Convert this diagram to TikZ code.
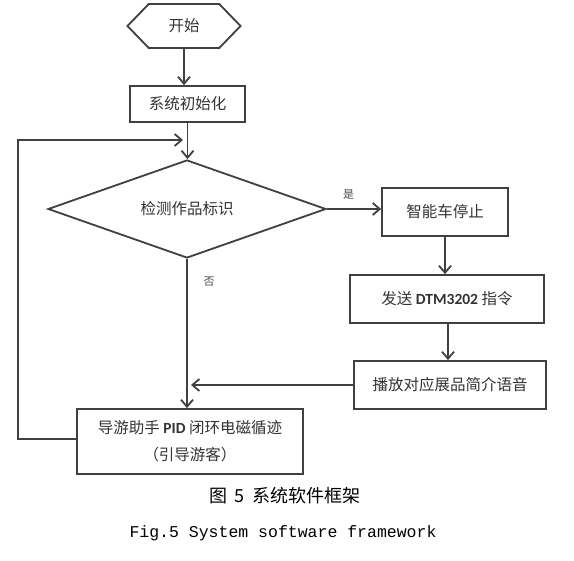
\documentclass[tikz,border=0pt]{standalone}
\usepackage{fontspec}
\setmainfont{Carlito}
\newfontfamily\cjk{Noto Sans CJK SC}
\newfontfamily\lat{Carlito}
\newfontfamily\mono{Liberation Mono}
\usetikzlibrary{arrows.meta,shapes.geometric,shapes.symbols}
\begin{document}
\begin{tikzpicture}[x=1pt,y=-1pt,
  line width=1.8pt,
  lc/.style={draw=black!75},
  box/.style={lc, rectangle, inner sep=0pt, text=black!80, font=\cjk\fontsize{15.5}{27}\selectfont},
  arr/.style={lc, -{Straight Barb[length=7pt,width=12pt,line width=1.8pt]}},
  lbl/.style={text=black!70, font=\cjk\fontsize{11}{13}\selectfont, inner sep=0pt}
]
\useasboundingbox (0,0) rectangle (574,561);
\fill[white] (0,0) rectangle (574,561);

\node[box, shape=signal, signal to=west and east, signal pointer angle=92,
      minimum width=113pt, minimum height=44pt] (start) at (184,26) {开始};
\node[box, minimum width=115pt, minimum height=36pt] (init) at (187.5,104) {系统初始化};
\node[box, shape=diamond, aspect=2.8, minimum width=278pt, minimum height=98pt, inner sep=0pt] (dia) at (187,209) {检测作品标识};
\node[box, minimum width=126pt, minimum height=48pt] (stop) at (445,212) {智能车停止};
\node[box, minimum width=194pt, minimum height=48pt] (send) at (447,299) {发送 {\lat\bfseries DTM3202} 指令};
\node[box, minimum width=192pt, minimum height=48pt] (play) at (450,385) {播放对应展品简介语音};
\node[box, minimum width=226pt, minimum height=65pt, align=center] (guide) at (190,441.5)
  {导游助手 {\lat\bfseries PID} 闭环电磁循迹\\（引导游客）};

\coordinate (lp) at (18,0);
\coordinate (le) at (183,140);
\coordinate (jn) at (191,0);

\draw[arr] (start.south) -- (start.south |- init.north);
\draw[arr] (init.south) -- (init.south |- dia.north);
\draw[arr] (dia.east) -- (dia.east -| stop.west) node[lbl, pos=0.4, above=9pt] (yes) {是};
\draw[arr] (stop.south) -- (stop.south |- send.north);
\draw[arr] ([xshift=1pt]send.south) -- ([xshift=1pt]send.south |- play.north);
\draw[arr] (dia.south) -- (dia.south |- guide.north);
\node[lbl] (no) at (209,282) {否};
\draw[arr] (play.west) -- (play.west -| jn);
\draw[arr] ([yshift=2.5pt]guide.west) -- ([yshift=2.5pt]guide.west -| lp) |- (le);

\node[inner sep=0pt, font=\cjk\fontsize{18}{21}\selectfont] (cap1) at (285,496) {图 \,5\, 系统软件框架};
\node[inner sep=0pt, font=\mono\fontsize{16.5}{19}\selectfont] (cap2) at (283,533) {Fig.5 System software framework};
\end{tikzpicture}
\end{document}
